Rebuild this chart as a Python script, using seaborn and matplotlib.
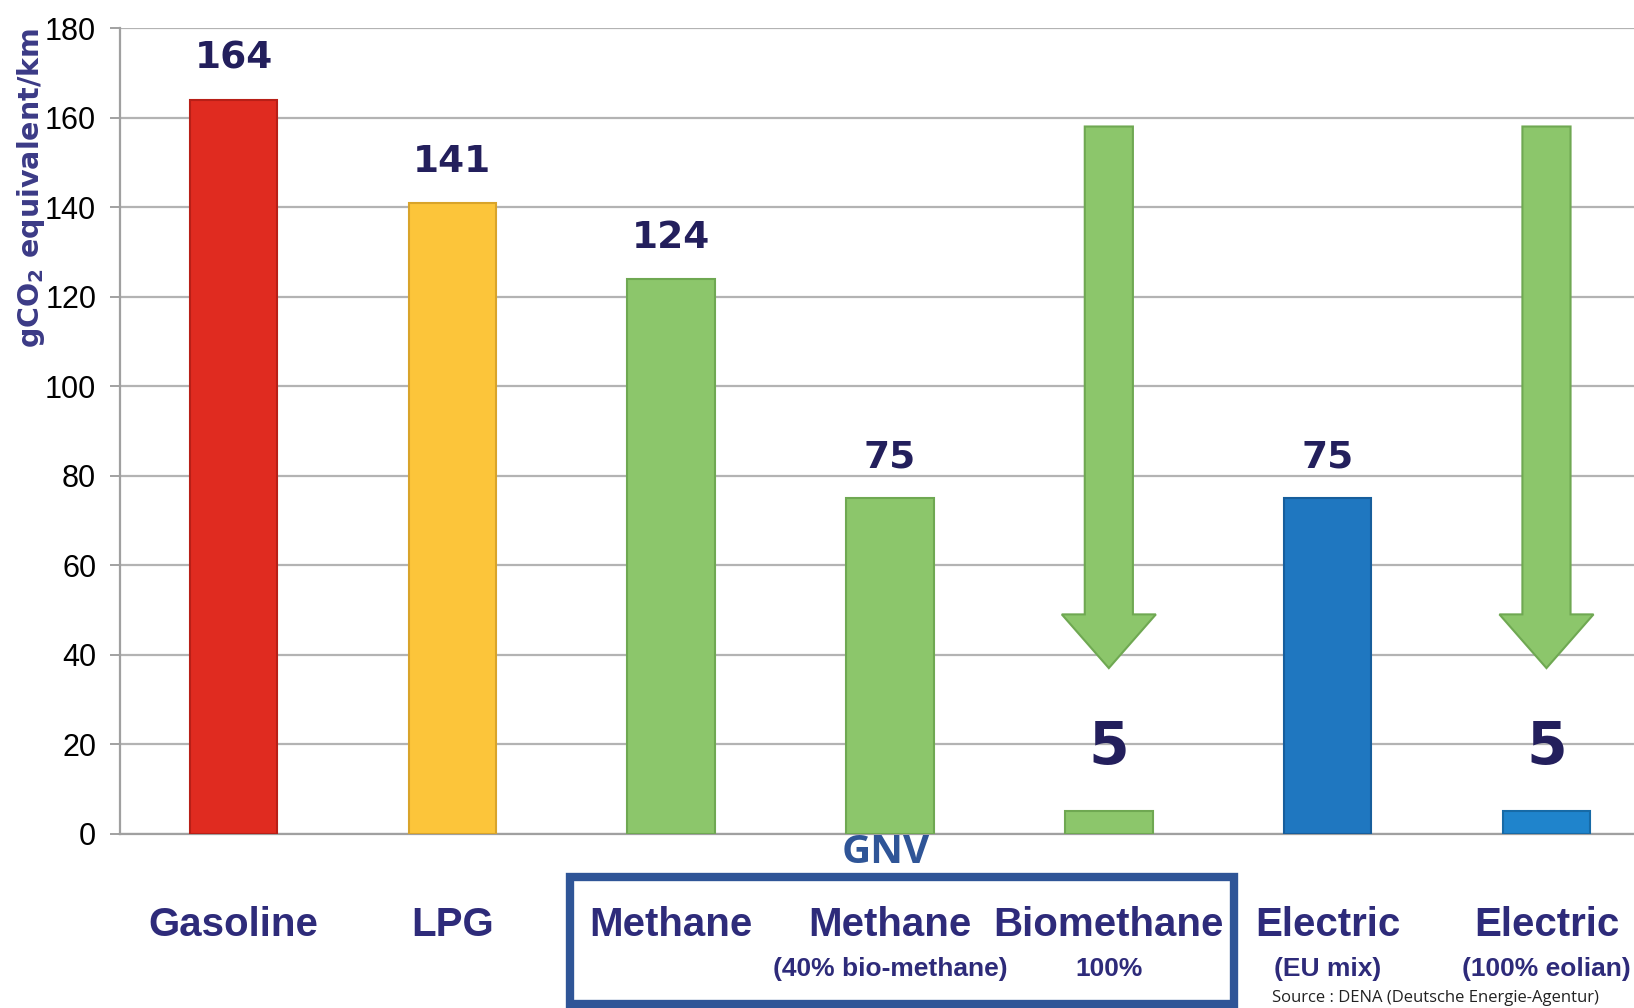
import numpy as np
import pandas as pd
import seaborn as sns
import matplotlib.pyplot as plt
from matplotlib.patches import FancyArrow, Rectangle

# data
categories = ['Gasoline', 'LPG', 'Methane', 'Methane (40%)', 'Biomethane', 'Electric (EU mix)', 'Electric (eolian)']
main_labels = ['Gasoline', 'LPG', 'Methane', 'Methane', 'Biomethane', 'Electric', 'Electric']
sub_labels = ['', '', '', '(40% bio-methane)', '100%', '(EU mix)', '(100% eolian)']
emissions = [164, 141, 124, 75, 5, 75, 5]
bar_colors = ['#e02b20', '#fcc53a', '#8cc66b', '#8cc66b', '#8cc66b', '#1f77c0', '#1f84cc']
edge_colors = ['#b81f17', '#d9a42a', '#6fa852', '#6fa852', '#6fa852', '#175e9c', '#176aa6']
label_sizes = [27, 27, 27, 27, 42, 27, 42]

# reduction arrows (above the two low-carbon bars)
arrow_bars = [4, 6]
arrow_top = 158
arrow_head_base = 49
arrow_tip = 37

navy = '#231f5c'
label_navy = '#2e2b7a'
gnv_blue = '#2f5597'

df = pd.DataFrame({'category': categories, 'emissions': emissions})

sns.set_style('white')
fig = plt.figure(figsize=(16.34, 10.08), dpi=100)
ax = fig.add_axes([0.0733, 0.1729, 0.9267, 0.7993])

sns.barplot(data=df, x='category', y='emissions', hue='category',
            palette=dict(zip(categories, bar_colors)), width=0.4, saturation=1,
            legend=False, ax=ax, zorder=3)
for patch, ec in zip(ax.patches, edge_colors):
    patch.set_edgecolor(ec)
    patch.set_linewidth(1.5)

narrow = ['Liberation Sans Narrow', 'Liberation Sans', 'DejaVu Sans']

ax.set_ylim(0, 180)
ax.set_xlim(-0.52, 6.40)
ax.set_yticks(range(0, 181, 20))
ax.set_yticklabels([str(v) for v in range(0, 181, 20)], fontsize=22, family=narrow, color='black')
ax.set_xticks([])
ax.set_xlabel('')
ax.set_ylabel('')
ax.yaxis.grid(True, color='#b3b3b3', linewidth=1.6, zorder=0)
ax.tick_params(axis='y', length=7, width=1.3, color='#9a9a9a', pad=10, left=True)
for side in ['top', 'right']:
    ax.spines[side].set_visible(False)
for side in ['left', 'bottom']:
    ax.spines[side].set_color('#a0a0a0')
    ax.spines[side].set_linewidth(1.6)

# value labels
for i, (v, s) in enumerate(zip(emissions, label_sizes)):
    ax.text(i, v + s * 0.19, str(v), ha='center', va='bottom', fontsize=s,
            fontweight='bold', color=navy, family='DejaVu Sans', zorder=5)

# arrows
for b in arrow_bars:
    ax.add_patch(FancyArrow(b, arrow_top, 0, arrow_tip - arrow_top, width=0.22,
                            head_width=0.43, head_length=arrow_head_base - arrow_tip,
                            length_includes_head=True, facecolor='#8cc66b',
                            edgecolor='#6fa852', linewidth=1.5, zorder=4))

# category labels under the axis
trans = ax.get_xaxis_transform()
for i, (m, s) in enumerate(zip(main_labels, sub_labels)):
    ax.text(i, -0.113, m, transform=trans, ha='center', va='center', fontsize=29,
            fontweight='bold', color=label_navy, family=narrow, clip_on=False)
    if s:
        ax.text(i, -0.168, s, transform=trans, ha='center', va='center', fontsize=19,
                fontweight='bold', color=label_navy, family=narrow, clip_on=False)

# y label
fig.text(0.019, 0.813, r'gCO$_\mathbf{2}$ equivalent/km', rotation=90, ha='center',
         va='center', fontsize=20.5, fontweight='bold', color='#3b3a86', family='DejaVu Sans')

# GNV group box
fig.patches.append(Rectangle((570 / 1634, 0.004), (1234 - 570) / 1634, 0.126,
                             transform=fig.transFigure, fill=False,
                             edgecolor=gnv_blue, linewidth=6))
fig.text(886 / 1634, 0.154, 'GNV', ha='center', va='center', fontsize=29,
         fontweight='bold', color=gnv_blue, family=['Open Sans', 'DejaVu Sans'])

# source note
fig.text(1272 / 1634, 0.002, 'Source : DENA (Deutsche Energie-Agentur)', ha='left',
         va='bottom', fontsize=12, color='#222222', family=['Open Sans', 'DejaVu Sans'])

fig.savefig('out.png', dpi=100)
